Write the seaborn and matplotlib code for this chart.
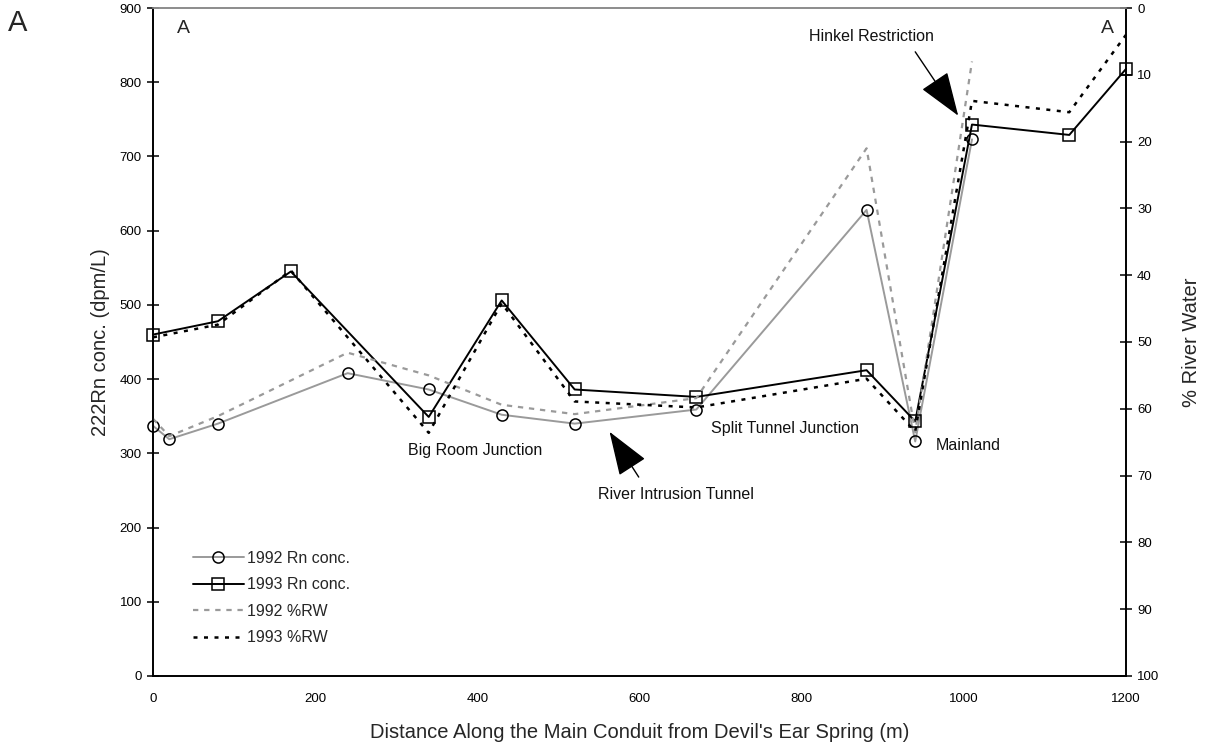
import numpy as np
import pandas as pd
import matplotlib
matplotlib.use("Agg")
import matplotlib.pyplot as plt
from matplotlib.transforms import Bbox
import seaborn as sns

# Sampling stations along the main conduit (m from Devil's Ear Spring)
dist_1992 = [0, 20, 80, 240, 340, 430, 520, 670, 880, 940, 1010]
dist_1993 = [0, 80, 170, 340, 430, 520, 670, 880, 940, 1010, 1130, 1200]

# 222Rn concentrations (dpm/L)
rn_1992 = [337, 319, 340, 408, 386, 352, 340, 359, 628, 316, 723]
rn_1993 = [460, 478, 545, 349, 506, 386, 376, 412, 343, 743, 729, 818]

# Percent river water
rw_1992 = [61.5, 64.1, 61.1, 51.6, 55.0, 59.4, 60.8, 58.4, 21.0, 63.5, 8.0]
rw_1993 = [49.3, 47.4, 39.3, 63.6, 44.2, 58.9, 59.8, 55.5, 63.4, 13.9, 15.6, 4.0]

x_ticks = list(range(0, 1201, 200))
rn_ticks = list(range(0, 901, 100))
rw_ticks = list(range(0, 101, 10))

df92 = pd.DataFrame({"dist": dist_1992, "rn": rn_1992, "rw": rw_1992})
df93 = pd.DataFrame({"dist": dist_1993, "rn": rn_1993, "rw": rw_1993})

sns.set_style("white")
plt.rcParams["font.family"] = ["Liberation Sans", "DejaVu Sans"]

fig = plt.figure(figsize=(12.06, 7.5), dpi=100)
ax = fig.add_axes([0.1269, 0.0987, 0.8068, 0.8906])
ax2 = ax.twinx()

gray = "#9a9a9a"

sns.lineplot(data=df92, x="dist", y="rn", ax=ax, color=gray, lw=1.4,
             marker="o", markersize=8, markerfacecolor="none",
             markeredgecolor="black", markeredgewidth=1.1,
             label="1992 Rn conc.", legend=False, clip_on=False)
sns.lineplot(data=df93, x="dist", y="rn", ax=ax, color="black", lw=1.4,
             marker="s", markersize=8, markerfacecolor="none",
             markeredgecolor="black", markeredgewidth=1.1,
             label="1993 Rn conc.", legend=False, clip_on=False)

sns.lineplot(data=df92, x="dist", y="rw", ax=ax2, color=gray, lw=1.6,
             linestyle=(0, (2.4, 2.6)), label="1992 %RW", legend=False)
sns.lineplot(data=df93, x="dist", y="rw", ax=ax2, color="black", lw=1.8,
             linestyle=(0, (1.6, 2.6)), label="1993 %RW", legend=False)

ax.set_xlim(0, 1200)
ax.set_ylim(0, 900)
ax2.set_ylim(100, 0)
ax.set_xticks(x_ticks)
ax.set_yticks(rn_ticks)
ax2.set_yticks(rw_ticks)

for a in (ax, ax2):
    for s in a.spines.values():
        s.set_linewidth(1.2)
        s.set_color("black")
    a.spines["top"].set_color("#8c8c8c")
    a.tick_params(direction="inout", length=8, width=1.1, labelsize=9.5,
                  colors="black", pad=4)
ax.tick_params(axis="x", pad=8)

ax.set_xlabel("Distance Along the Main Conduit from Devil's Ear Spring (m)",
              fontsize=14.5, labelpad=13)
ax.set_ylabel("222Rn conc. (dpm/L)", fontsize=14.5, labelpad=7)
ax2.set_ylabel("% River Water", fontsize=14.5, labelpad=16)

# Site labels
txt = dict(fontsize=11.5, color="#111111")
ax.text(397, 304, "Big Room Junction", ha="center", va="center", **txt)
ax.text(780, 334, "Split Tunnel Junction", ha="center", va="center", **txt)
ax.text(965, 310, "Mainland", ha="left", va="center", **txt)
# second line of the Mainland label is cut off just below its top edge
jn = ax.text(965, 276, "Junction", ha="left", va="center", **txt)
jn.set_clip_box(Bbox([[0, 286], [1206, 750]]))
jn.set_clip_on(True)

ax.text(645, 244, "River Intrusion Tunnel", ha="center", va="center", **txt)
ax.text(886, 862, "Hinkel Restriction", ha="center", va="center", **txt)

arrow = dict(arrowstyle="-|>,head_length=1.4,head_width=0.5",
             mutation_scale=20, color="black", lw=1.0,
             shrinkA=0, shrinkB=0)
ax.annotate("", xy=(563, 329), xytext=(599, 268), arrowprops=arrow)
ax.annotate("", xy=(993, 755), xytext=(940, 841), arrowprops=arrow)

ax.text(37, 873, "A", fontsize=14, ha="center", va="center")
ax.text(1177, 873, "A", fontsize=14, ha="center", va="center")
fig.text(0.015, 0.969, "A", fontsize=21, ha="center", va="center")

h1, l1 = ax.get_legend_handles_labels()
h2, l2 = ax2.get_legend_handles_labels()
leg = ax2.legend(h1 + h2, l1 + l2, loc="upper left",
                 bbox_to_anchor=(0.026, 0.209), frameon=False,
                 fontsize=11.5, handlelength=3.2, handletextpad=0.2,
                 labelspacing=0.72)

fig.savefig("out.png", dpi=100)
